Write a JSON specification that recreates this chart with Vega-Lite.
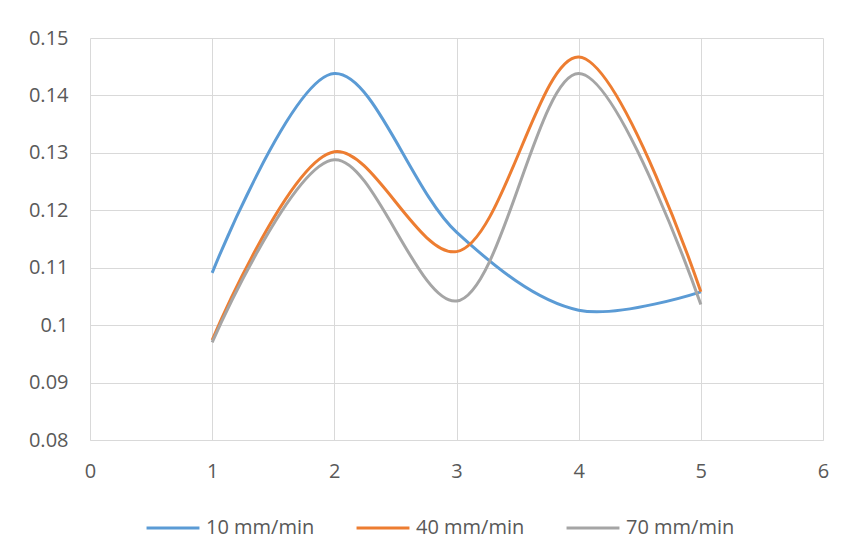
{
  "$schema": "https://vega.github.io/schema/vega-lite/v6.json",
  "autosize": "none",
  "width": 733,
  "height": 402,
  "padding": {"left": 90, "top": 38, "right": 25, "bottom": 119},
  "background": "white",
  "data": {
    "values": [
      {"x": 1, "y": 0.1091, "s": "10 mm/min"},
      {"x": 2, "y": 0.1438, "s": "10 mm/min"},
      {"x": 3, "y": 0.1162, "s": "10 mm/min"},
      {"x": 4, "y": 0.1026, "s": "10 mm/min"},
      {"x": 5, "y": 0.1058, "s": "10 mm/min"},
      {"x": 1, "y": 0.0974, "s": "40 mm/min"},
      {"x": 2, "y": 0.1302, "s": "40 mm/min"},
      {"x": 3, "y": 0.1128, "s": "40 mm/min"},
      {"x": 4, "y": 0.1467, "s": "40 mm/min"},
      {"x": 5, "y": 0.1058, "s": "40 mm/min"},
      {"x": 1, "y": 0.0970, "s": "70 mm/min"},
      {"x": 2, "y": 0.1288, "s": "70 mm/min"},
      {"x": 3, "y": 0.1042, "s": "70 mm/min"},
      {"x": 4, "y": 0.1438, "s": "70 mm/min"},
      {"x": 5, "y": 0.1036, "s": "70 mm/min"}
    ]
  },
  "mark": {"type": "line", "interpolate": "catmull-rom", "strokeWidth": 3},
  "encoding": {
    "x": {
      "field": "x", "type": "quantitative",
      "scale": {"domain": [0, 6], "nice": false},
      "axis": {"values": [0, 1, 2, 3, 4, 5, 6], "title": null, "ticks": false, "domain": true, "domainColor": "#d9d9d9", "labelPadding": 21, "labelFlush": false}
    },
    "y": {
      "field": "y", "type": "quantitative",
      "scale": {"domain": [0.08, 0.15], "nice": false, "zero": false},
      "axis": {"values": [0.08, 0.09, 0.1, 0.11, 0.12, 0.13, 0.14, 0.15], "format": ".2~f", "title": null, "ticks": false, "domain": false, "labelPadding": 22}
    },
    "color": {
      "field": "s", "type": "nominal",
      "scale": {"range": ["#5B9BD5", "#ED7D31", "#A5A5A5"]},
      "legend": {"orient": "none", "legendX": 55, "legendY": 462, "title": null, "direction": "horizontal", "symbolType": "stroke", "symbolStrokeWidth": 3, "symbolSize": 2800, "labelOffset": 5, "columnPadding": 35, "labelFontSize": 20, "labelColor": "#595959", "labelFont": "Open Sans"}
    }
  },
  "config": {
    "view": {"stroke": null},
    "axis": {"gridColor": "#d9d9d9", "gridWidth": 1, "labelFont": "Open Sans", "labelFontSize": 20, "labelColor": "#595959"}
  }
}
